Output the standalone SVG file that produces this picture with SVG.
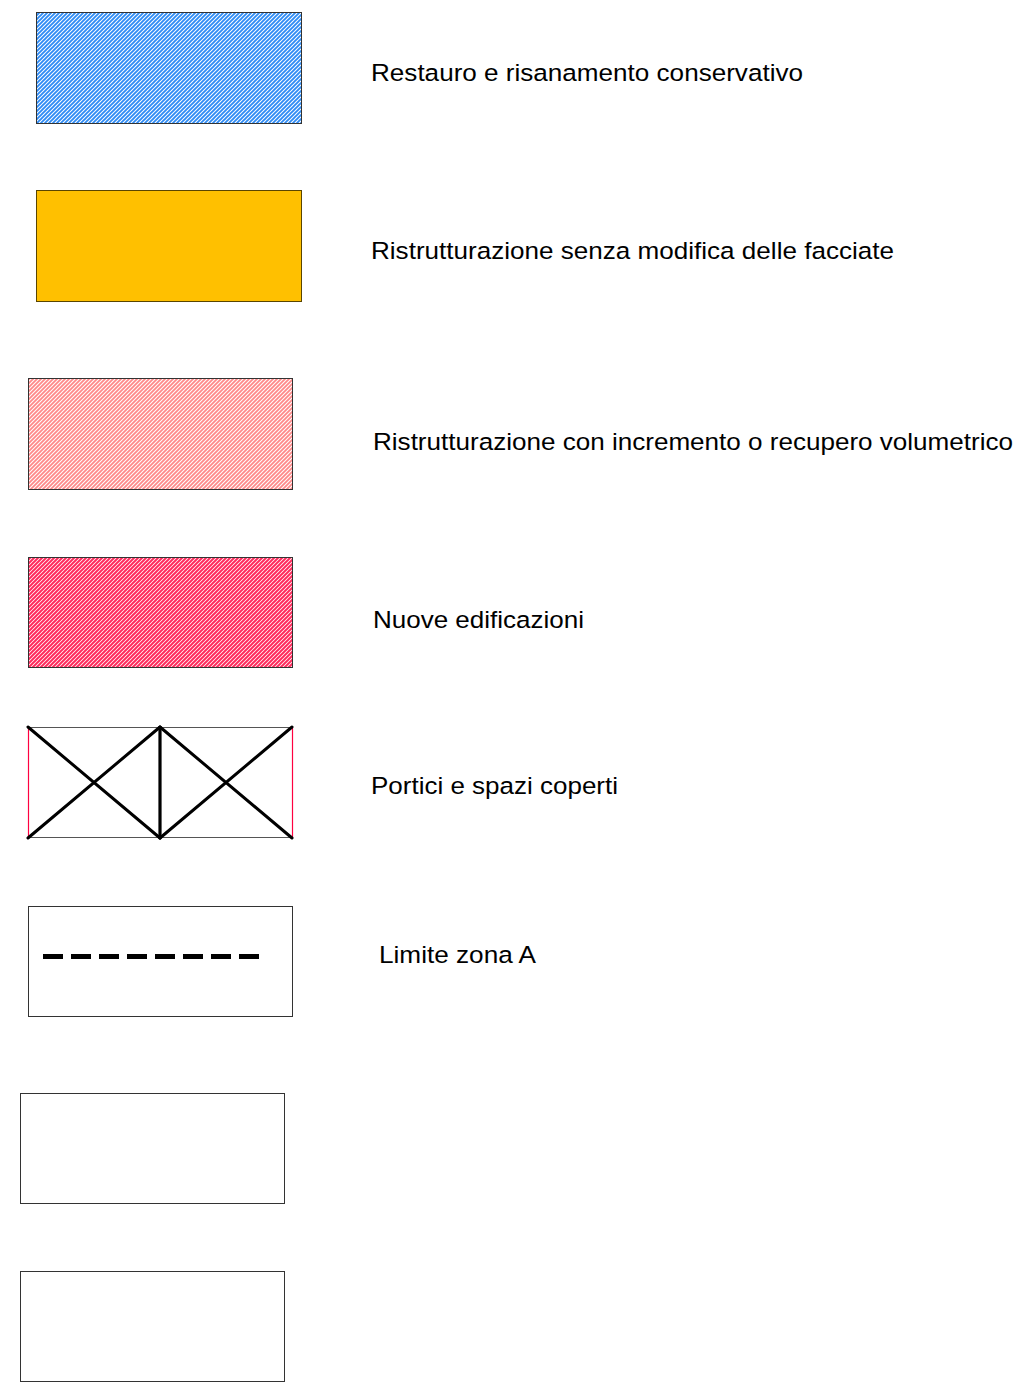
<svg xmlns="http://www.w3.org/2000/svg" width="1014" height="1383" viewBox="0 0 1014 1383">
<defs>
<pattern id="hBlue" patternUnits="userSpaceOnUse" width="4" height="4">
<rect width="4" height="4" fill="#ffffff"/><path d="M-1,1 l2,-2 M0,4 l4,-4 M3,5 l2,-2" stroke="#2f8cf5" stroke-width="1.9"/>
</pattern>
<pattern id="hPink" patternUnits="userSpaceOnUse" width="4" height="4">
<rect width="4" height="4" fill="#ffffff"/><path d="M-1,1 l2,-2 M0,4 l4,-4 M3,5 l2,-2" stroke="#ff8a8a" stroke-width="1.8"/>
</pattern>
<pattern id="hRed" patternUnits="userSpaceOnUse" width="4" height="4">
<rect width="4" height="4" fill="#ffffff"/><path d="M-1,1 l2,-2 M0,4 l4,-4 M3,5 l2,-2" stroke="#ff2a5c" stroke-width="2"/>
</pattern>
</defs>
<style>
.lbl{font-family:"Liberation Sans",Arial,sans-serif;font-size:24.5px;fill:#000}
.box{stroke:#333;stroke-width:1}
</style>
<rect width="1014" height="1383" fill="#fff"/>
<g id="n1"><rect class="box" x="36.5" y="12.5" width="265" height="111" fill="url(#hBlue)"/><text class="lbl" x="371" y="81" textLength="432" lengthAdjust="spacingAndGlyphs">Restauro e risanamento conservativo</text></g>
<g id="n2"><rect x="36.5" y="190.5" width="265" height="111" fill="#ffc000" stroke="#5a4500" stroke-width="1"/><text class="lbl" x="371" y="259" textLength="523" lengthAdjust="spacingAndGlyphs">Ristrutturazione senza modifica delle facciate</text></g>
<g id="n3"><rect class="box" x="28.5" y="378.5" width="264" height="111" fill="url(#hPink)"/><text class="lbl" x="373" y="450" textLength="640" lengthAdjust="spacingAndGlyphs">Ristrutturazione con incremento o recupero volumetrico</text></g>
<g id="n4"><rect class="box" x="28.5" y="557.5" width="264" height="110" fill="url(#hRed)"/><text class="lbl" x="373" y="628" textLength="211" lengthAdjust="spacingAndGlyphs">Nuove edificazioni</text></g>
<g id="n5">
<rect x="28.5" y="727.5" width="264" height="110" fill="#fff" stroke="#555" stroke-width="1"/>
<line x1="28.5" y1="727" x2="28.5" y2="838" stroke="#ff0040" stroke-width="1.2"/>
<line x1="292.5" y1="727" x2="292.5" y2="838" stroke="#ff0040" stroke-width="1.2"/>
<g stroke="#000" stroke-width="3" stroke-linecap="round" fill="none">
<line x1="28" y1="727" x2="160" y2="838"/>
<line x1="28" y1="838" x2="160" y2="727"/>
<line x1="160" y1="727" x2="292" y2="838"/>
<line x1="160" y1="838" x2="292" y2="727"/>
<line x1="160" y1="727" x2="160" y2="838" stroke-width="3.2"/>
</g>
<text class="lbl" x="371" y="794" textLength="247" lengthAdjust="spacingAndGlyphs">Portici e spazi coperti</text>
</g>
<g id="n6">
<rect class="box" x="28.5" y="906.5" width="264" height="110" fill="#fff"/>
<line x1="43" y1="956.5" x2="263" y2="956.5" stroke="#000" stroke-width="5" stroke-dasharray="20 8"/>
<text class="lbl" x="379" y="963" textLength="157" lengthAdjust="spacingAndGlyphs">Limite zona A</text>
</g>
<g id="n7"><rect class="box" x="20.5" y="1093.5" width="264" height="110" fill="#fff"/></g>
<g id="n8"><rect class="box" x="20.5" y="1271.5" width="264" height="110" fill="#fff"/></g>
<g id="connectors"/>
</svg>
